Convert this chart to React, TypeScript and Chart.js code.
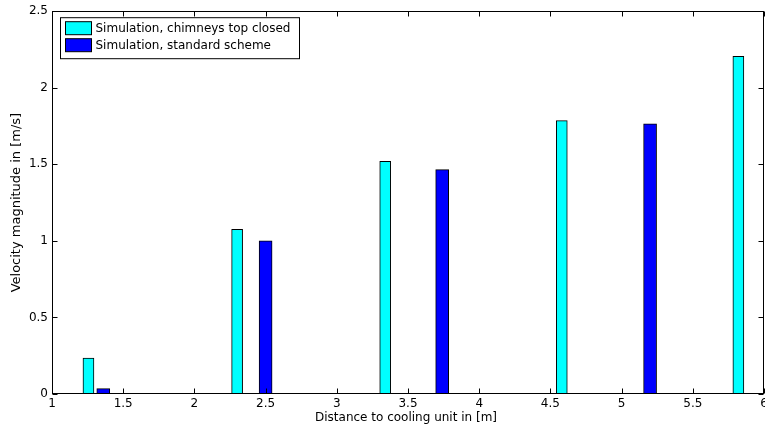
import React, { useEffect, useRef } from "react";
import { Chart, registerables } from "chart.js";

Chart.register(...registerables);

const closedX = [1.256, 2.3, 3.34, 4.58, 5.82];
const closedY = [0.235, 1.075, 1.52, 1.785, 2.205];
const standardX = [1.36, 2.5, 3.74, 5.2];
const standardY = [0.035, 1.0, 1.465, 1.765];
const seriesLabels = ["Simulation, chimneys top closed", "Simulation, standard scheme"];
const xTitle = "Distance to cooling unit in [m]";
const yTitle = "Velocity magnitude in [m/s]";

const FONT = "'DejaVu Sans', 'Liberation Sans', Arial, sans-serif";

const framePlugin = {
  id: "frame",
  afterDraw(chart: any) {
    const { ctx, chartArea: a, scales } = chart;
    const xs = scales.x;
    const ys = scales.y;
    ctx.save();
    ctx.strokeStyle = "#000";
    ctx.lineWidth = 1;
    const L = Math.round(a.left) + 0.5;
    const R = Math.round(a.right) - 0.5;
    const T = Math.round(a.top) + 0.5;
    const B = Math.round(a.bottom) - 0.5;
    ctx.strokeRect(L, T, R - L, B - T);
    const tl = 5;
    ctx.beginPath();
    xs.ticks.forEach((t: any) => {
      const p = Math.round(xs.getPixelForValue(t.value)) + 0.5;
      ctx.moveTo(p, B);
      ctx.lineTo(p, B - tl);
      ctx.moveTo(p, T);
      ctx.lineTo(p, T + tl);
    });
    ys.ticks.forEach((t: any) => {
      const p = Math.round(ys.getPixelForValue(t.value)) + 0.5;
      ctx.moveTo(L, p);
      ctx.lineTo(L + tl, p);
      ctx.moveTo(R, p);
      ctx.lineTo(R - tl, p);
    });
    ctx.stroke();

    // x tick labels
    ctx.fillStyle = "#000";
    ctx.font = `12px ${FONT}`;
    ctx.textAlign = "center";
    ctx.textBaseline = "top";
    xs.ticks.forEach((t: any) => {
      const p = xs.getPixelForValue(t.value);
      ctx.fillText(t.label, p, a.bottom + 4);
    });

    // x title
    ctx.textBaseline = "middle";
    ctx.fillText(xTitle, (a.left + a.right) / 2 - 2, a.bottom + 24);

    // legend
    const lx = a.left + 8.5;
    const ly = a.top + 6.5;
    const lw = 239;
    const lh = 41;
    ctx.fillStyle = "#fff";
    ctx.fillRect(lx, ly, lw, lh);
    ctx.strokeRect(lx, ly, lw, lh);
    ctx.font = `12px ${FONT}`;
    chart.data.datasets.forEach((ds: any, i: number) => {
      const sy = ly + 4 + i * 17;
      ctx.fillStyle = ds.backgroundColor;
      ctx.fillRect(lx + 5, sy, 26, 13);
      ctx.strokeRect(lx + 5, sy, 26, 13);
      ctx.fillStyle = "#000";
      ctx.textAlign = "left";
      ctx.textBaseline = "middle";
      ctx.fillText(ds.label, lx + 35, sy + 7);
    });
    ctx.restore();
  },
};

const fmt = (v: any) => String(Math.round(Number(v) * 100) / 100);

export default function App() {
  const ref = useRef<HTMLCanvasElement>(null);
  useEffect(() => {
    document.body.style.margin = "0";
    const chart = new Chart(ref.current as HTMLCanvasElement, {
      type: "bar",
      data: {
        datasets: [
          {
            label: seriesLabels[0],
            data: closedX.map((x, i) => ({ x, y: closedY[i] })),
            backgroundColor: "#00FFFF",
            borderColor: "#000",
            borderWidth: 1,
            barThickness: 11,
            grouped: false,
          } as any,
          {
            label: seriesLabels[1],
            data: standardX.map((x, i) => ({ x, y: standardY[i] })),
            backgroundColor: "#0000FF",
            borderColor: "#000",
            borderWidth: 1,
            barThickness: 13,
            grouped: false,
          } as any,
        ],
      },
      options: {
        animation: false,
        responsive: false,
        layout: { padding: { top: 10, right: 1, left: 0, bottom: 0 } },
        plugins: { legend: { display: false }, tooltip: { enabled: false } },
        scales: {
          x: {
            type: "linear",
            min: 1,
            max: 6,
            offset: false,
            grid: { display: false, drawTicks: false },
            border: { display: false },
            ticks: { display: false, stepSize: 0.5, callback: fmt },
            title: { display: false },
            afterFit(s: any) {
              s.height = 35;
            },
          },
          y: {
            min: 0,
            max: 2.5,
            grid: { display: false, drawTicks: false },
            border: { display: false },
            ticks: {
              stepSize: 0.5,
              padding: 4,
              color: "#000",
              font: { family: FONT, size: 12 },
              callback: fmt,
            },
            title: {
              display: true,
              text: yTitle,
              color: "#000",
              font: { family: FONT, size: 13 },
              padding: { top: 9, bottom: 0 },
            },
            afterFit(s: any) {
              s.width = 52;
            },
          },
        } as any,
      },
      plugins: [framePlugin],
    });
    return () => chart.destroy();
  }, []);
  return <canvas ref={ref} width={765} height={429} style={{ display: "block" }} />;
}
